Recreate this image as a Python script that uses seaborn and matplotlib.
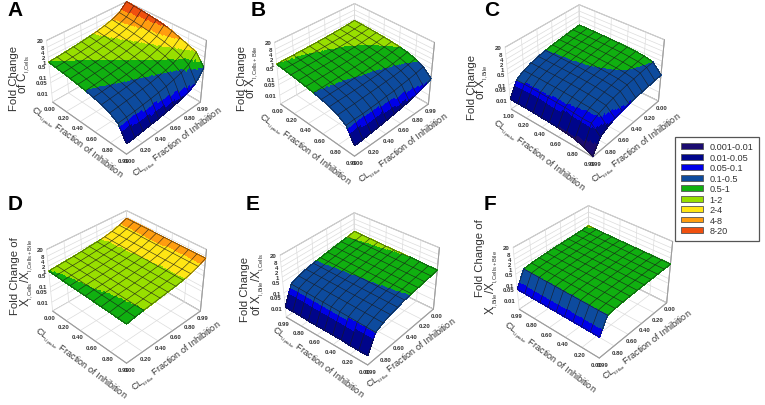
import numpy as np
import matplotlib
matplotlib.use("Agg")
import matplotlib.pyplot as plt
from matplotlib.colors import BoundaryNorm, ListedColormap
from matplotlib.patches import Patch
import seaborn as sns

# legend bands
band_edges = [0.001, 0.01, 0.05, 0.1, 0.5, 1, 2, 4, 8, 20]
band_labels = ["0.001-0.01", "0.01-0.05", "0.05-0.1", "0.1-0.5", "0.5-1", "1-2", "2-4", "4-8", "8-20"]
band_colors = ["#1b0b70", "#00058a", "#0000e8", "#0d4b9e", "#10b010", "#98df00", "#ffe614", "#ff9d0f", "#f0500f"]

# z axis ticks
z_ticks = [0.01, 0.05, 0.1, 0.5, 1, 2, 4, 8, 20]
z_labels = ["0.01", "0.05", "0.1", "0.5", "1", "2", "4", "8", "20"]

# mesh nodes: rows run left corner -> front corner, columns front corner -> right corner
nodes = [0, 0.1, 0.2, 0.3, 0.4, 0.5, 0.6, 0.7, 0.8, 0.9, 1.0]
tick_pos = [0, 0.2, 0.4, 0.6, 0.8, 1.0]
ticks_up = ["0.00", "0.20", "0.40", "0.60", "0.80", "0.99"]
ticks_down = ["0.99", "0.80", "0.60", "0.40", "0.20", "0.00"]
ticks_c = ["1.00", "0.20", "0.40", "0.60", "0.80", "0.99"]

fold_a = [
    [1, 1.1, 1.23, 1.4, 1.61, 1.9, 2.33, 3.0, 4.2, 6.9, 20],
    [.9, .99, 1.11, 1.26, 1.45, 1.71, 2.1, 2.7, 3.8, 6.2, 18],
    [.8, .88, .98, 1.12, 1.29, 1.52, 1.86, 2.4, 3.4, 5.5, 16],
    [.7, .77, .86, .98, 1.13, 1.33, 1.63, 2.1, 2.9, 4.8, 14],
    [.6, .66, .74, .84, .97, 1.14, 1.4, 1.8, 2.5, 4.1, 12],
    [.5, .55, .62, .7, .81, .95, 1.17, 1.5, 2.1, 3.5, 10],
    [.4, .44, .49, .56, .64, .76, .93, 1.2, 1.7, 2.8, 7.5],
    [.3, .33, .37, .42, .48, .57, .7, .9, 1.26, 2.1, 5],
    [.2, .22, .25, .28, .32, .38, .47, .6, .84, 1.4, 3.4],
    [.1, .11, .12, .14, .16, .19, .23, .3, .42, .7, 2.2],
    [.012, .013, .015, .017, .019, .023, .028, .036, .05, .1, .45],
]
fold_b = [
    [1, 1.03, 1.05, 1.08, 1.12, 1.17, 1.22, 1.29, 1.38, 1.51, 1.7],
    [.9, .93, .95, .98, 1.03, 1.07, 1.13, 1.2, 1.28, 1.42, 1.62],
    [.8, .83, .86, .88, .92, .98, 1.02, 1.1, 1.18, 1.34, 1.54],
    [.7, .73, .75, .78, .82, .87, .92, .99, 1.08, 1.23, 1.44],
    [.6, .62, .65, .68, .71, .76, .82, .88, .97, 1.12, 1.34],
    [.5, .52, .55, .57, .61, .65, .7, .77, .85, 1.0, 1.22],
    [.4, .42, .44, .46, .5, .54, .58, .64, .72, .85, 1.05],
    [.3, .32, .33, .35, .38, .41, .44, .5, .56, .68, .85],
    [.2, .21, .22, .24, .26, .28, .31, .34, .39, .48, .62],
    [.1, .11, .11, .12, .13, .15, .16, .19, .22, .27, .36],
    [.012, .013, .015, .017, .02, .024, .029, .036, .048, .072, .12],
]
fold_c = [
    [.012, .1, .2, .3, .4, .5, .6, .7, .8, .9, 1],
    [.012, .1, .2, .3, .4, .5, .59, .69, .79, .89, .99],
    [.012, .098, .2, .29, .39, .49, .59, .69, .78, .88, .98],
    [.012, .096, .19, .29, .38, .48, .58, .67, .77, .86, .96],
    [.011, .093, .19, .28, .37, .47, .56, .65, .74, .84, .93],
    [.011, .089, .18, .27, .36, .45, .53, .62, .71, .8, .89],
    [.01, .084, .17, .25, .34, .42, .5, .59, .67, .76, .84],
    [.009, .077, .15, .23, .31, .39, .46, .54, .62, .69, .77],
    [.008, .068, .14, .2, .27, .34, .41, .48, .54, .61, .68],
    [.005, .07, .12, .17, .22, .27, .32, .36, .41, .46, .5],
    [.0028, .02, .035, .055, .07, .085, .095, .105, .115, .125, .135],
]
fold_d = [
    [1, 1.1, 1.2, 1.3, 1.45, 1.65, 1.85, 2.2, 2.8, 4, 6.5],
    [.97, 1.08, 1.18, 1.28, 1.43, 1.63, 1.83, 2.17, 2.76, 3.95, 6.45],
    [.94, 1.06, 1.16, 1.26, 1.41, 1.61, 1.81, 2.14, 2.73, 3.9, 6.4],
    [.91, 1.04, 1.14, 1.24, 1.39, 1.59, 1.79, 2.11, 2.7, 3.87, 6.35],
    [.88, 1.02, 1.12, 1.23, 1.38, 1.57, 1.77, 2.08, 2.67, 3.83, 6.3],
    [.85, 1, 1.1, 1.21, 1.36, 1.55, 1.75, 2.05, 2.64, 3.79, 6.25],
    [.82, .97, 1.08, 1.19, 1.34, 1.53, 1.73, 2.03, 2.61, 3.75, 6.2],
    [.79, .94, 1.06, 1.17, 1.32, 1.51, 1.71, 2.0, 2.58, 3.71, 6.15],
    [.76, .91, 1.04, 1.15, 1.3, 1.49, 1.69, 1.98, 2.55, 3.67, 6.1],
    [.73, .88, 1.02, 1.13, 1.29, 1.47, 1.67, 1.96, 2.52, 3.63, 6.05],
    [.7, .85, 1, 1.12, 1.28, 1.45, 1.65, 1.95, 2.5, 3.6, 6],
]
fold_e = [
    [.012, .18, .29, .39, .48, .57, .67, .79, .92, 1.04, 1.3],
    [.012, .174, .281, .38, .47, .56, .656, .77, .896, 1.01, 1.25],
    [.012, .168, .272, .37, .456, .55, .642, .75, .872, .986, 1.2],
    [.011, .162, .263, .36, .444, .54, .628, .733, .848, .959, 1.15],
    [.011, .156, .254, .35, .432, .53, .614, .714, .824, .932, 1.1],
    [.011, .15, .245, .335, .42, .515, .6, .695, .8, .905, 1.07],
    [.011, .144, .236, .325, .408, .504, .586, .676, .776, .878, 1.04],
    [.011, .138, .227, .31, .396, .493, .572, .657, .752, .851, 1.02],
    [.01, .132, .218, .30, .384, .482, .558, .638, .728, .824, .98],
    [.01, .126, .209, .29, .372, .471, .544, .619, .704, .797, .92],
    [.01, .12, .2, .28, .36, .46, .53, .6, .68, .77, .88],
]
fold_f = [
    [.055, .52, .62, .69, .74, .79, .83, .87, .91, .96, 1.05],
    [.055, .52, .616, .685, .734, .783, .822, .861, .899, .947, .99],
    [.055, .516, .612, .68, .728, .776, .814, .852, .888, .934, .96],
    [.055, .514, .608, .675, .722, .769, .806, .843, .877, .921, .94],
    [.055, .512, .604, .67, .716, .762, .798, .834, .866, .908, .92],
    [.055, .51, .6, .665, .71, .755, .79, .825, .855, .895, .91],
    [.055, .508, .596, .66, .704, .748, .782, .816, .844, .882, .9],
    [.055, .506, .592, .655, .698, .741, .774, .807, .833, .869, .89],
    [.055, .504, .588, .65, .692, .734, .766, .798, .822, .856, .88],
    [.055, .502, .584, .645, .686, .727, .758, .789, .811, .843, .87],
    [.055, .5, .58, .64, .68, .72, .75, .78, .8, .83, .86],
]

# letter, grid, x ticks, y ticks, azim, axes center px, z label lines
panels = [
    ("A", fold_a, ticks_up, ticks_up, -45, (123, 77),
     ["Fold Change", r"of C$_{_{\mathrm{I{,}Cells}}}$"],
     (15, 10), (14, 78), (24, 74), (76, 143), (178, 143)),
    ("B", fold_b, ticks_up, ticks_up, -45, (351, 79),
     ["Fold Change", r"of X$_{_{\mathrm{I{,}Cells+Bile}}}$"],
     (258, 10), (242, 78), (252, 72), (304, 150), (404, 149)),
    ("C", fold_c, ticks_c, ticks_down, -50, (582, 80),
     ["Fold Change", r"of X$_{_{\mathrm{I{,}Bile}}}$"],
     (492, 10), (472, 87), (482, 82), (538, 156), (637, 149)),
    ("D", fold_d, ticks_up, ticks_up, -45, (123, 286),
     ["Fold Change of", r"X$_{_{\mathrm{I{,}Cells}}}$/X$_{_{\mathrm{I{,}Cells+Bile}}}$"],
     (15, 204), (15, 276), (27, 273), (80, 364), (177, 357)),
    ("E", fold_e, ticks_down, ticks_down, -50, (357, 288),
     ["Fold Change", r"of X$_{_{\mathrm{I{,}Bile}}}$/X$_{_{\mathrm{I{,}Cells}}}$"],
     (253, 204), (245, 289), (258, 285), (317, 363), (412, 354)),
    ("F", fold_f, ticks_down, ticks_down, -49, (590, 281),
     ["Fold Change of", r"X$_{_{\mathrm{I{,}Bile}}}$/X$_{_{\mathrm{I{,}Cells+Bile}}}$"],
     (490, 204), (480, 258), (492, 282), (549, 358), (648, 346)),
]

sns.set_theme(style="white")
plt.rcParams["font.family"] = ["Liberation Sans", "DejaVu Sans"]
plt.rcParams["mathtext.fontset"] = "custom"
plt.rcParams["mathtext.rm"] = "Liberation Sans"
plt.rcParams["mathtext.default"] = "regular"

W, H = 765, 406
fig = plt.figure(figsize=(W / 100, H / 100), dpi=100, facecolor="white")

cmap = ListedColormap(sns.color_palette(band_colors))
norm = BoundaryNorm(band_edges, cmap.N)
SIDE = 260
TEXT = "#333333"


def figxy(x, y):
    return x / W, 1 - y / H


def refine(grid):
    # finer mesh so the colour bands cross the cells, the black mesh stays on the read nodes
    fine = np.linspace(0, 1, 81)
    logs = np.log10(np.array(grid))
    step1 = np.array([np.interp(fine, nodes, row) for row in logs])
    step2 = np.array([np.interp(fine, nodes, col) for col in step1.T]).T
    return fine, step2


for letter, grid, xt, yt, azim, center, zlab, l_xy, z1_xy, z2_xy, left_xy, right_xy in panels:
    rect = [(center[0] - SIDE / 2) / W, 1 - (center[1] + SIDE / 2) / H, SIDE / W, SIDE / H]
    ax = fig.add_axes(rect, projection="3d")
    ax.patch.set_alpha(0)
    ax.computed_zorder = False
    ax.view_init(elev=36, azim=azim)
    ax.set_proj_type("persp", focal_length=0.4)
    ax.set_box_aspect((1, 1, 0.7), zoom=0.64)

    fine, logz = refine(grid)
    X, Y = np.meshgrid(fine, fine, indexing="ij")
    ax.plot_surface(X, Y, logz, facecolors=cmap(norm(10 ** logz)), rcount=81, ccount=81,
                    shade=False, antialiased=False, linewidth=0.3, zorder=2)
    gx, gy = np.meshgrid(nodes, nodes, indexing="ij")
    ax.plot_wireframe(gx, gy, np.log10(np.array(grid)), color="#1a1a1a", linewidth=0.45,
                      alpha=0.85, zorder=3)

    ax.set_xlim(0, 1)
    ax.set_ylim(0, 1)
    ax.set_zlim(np.log10(0.0025), np.log10(20))
    ax.set_xticks(tick_pos)
    ax.set_yticks(tick_pos)
    ax.set_zticks(np.log10(z_ticks))
    ax.set_xticklabels(xt, fontsize=4.3, fontweight="bold", color=TEXT)
    ax.set_yticklabels(yt, fontsize=4.3, fontweight="bold", color=TEXT)
    # z labels go on the left vertical edge, mplot3d would put them on the right
    ax.set_zticklabels([])
    for val, lab in zip(z_ticks, z_labels):
        ax.text(-0.02, -0.02, np.log10(val), lab, fontsize=4.3, fontweight="bold", color=TEXT,
                ha="right", va="center")
    ax.tick_params(axis="both", pad=-4.5)
    for axis in (ax.xaxis, ax.yaxis, ax.zaxis):
        axis.set_pane_color((1, 1, 1, 1))
        axis.pane.set_edgecolor("#9a9a9a")
        axis.pane.set_linewidth(0.7)
        axis.line.set_color("#9a9a9a")
        axis.line.set_linewidth(0.7)
        axis._axinfo["grid"].update(color="#dcdcdc", linewidth=0.5)
        axis._axinfo["tick"].update(inward_factor=0, outward_factor=0)

    # panel letter and axis captions
    fig.text(*figxy(*l_xy), letter, fontsize=15, fontweight="bold", color="black", ha="center", va="center")
    fig.text(*figxy(*z1_xy), zlab[0], fontsize=8.2, color=TEXT, rotation=90, ha="center", va="center")
    fig.text(*figxy(*z2_xy), zlab[1], fontsize=8.4, color=TEXT, rotation=90, ha="center", va="center")
    fig.text(*figxy(*left_xy), r"CL$_{_{\mathrm{Uptake}}}$ Fraction of Inhibition", fontsize=6.6, color=TEXT,
             rotation=-37, rotation_mode="anchor", ha="center", va="center")
    fig.text(*figxy(*right_xy), r"CL$_{_{\mathrm{Efflux}}}$ Fraction of Inhibition", fontsize=6.6, color=TEXT,
             rotation=37, rotation_mode="anchor", ha="center", va="center")

handles = [Patch(facecolor=c, edgecolor="#555555", linewidth=0.6) for c in band_colors]
leg = fig.legend(handles, band_labels, loc="upper left", bbox_to_anchor=figxy(675, 138), fontsize=6.6,
                 frameon=True, fancybox=False, edgecolor="#555555", framealpha=1, borderaxespad=0,
                 handlelength=2.5, handleheight=0.6, labelspacing=0.16, handletextpad=0.7,
                 borderpad=0.6, labelcolor=TEXT)
leg.get_frame().set_linewidth(0.9)

fig.savefig("out.png", dpi=100, facecolor="white")
